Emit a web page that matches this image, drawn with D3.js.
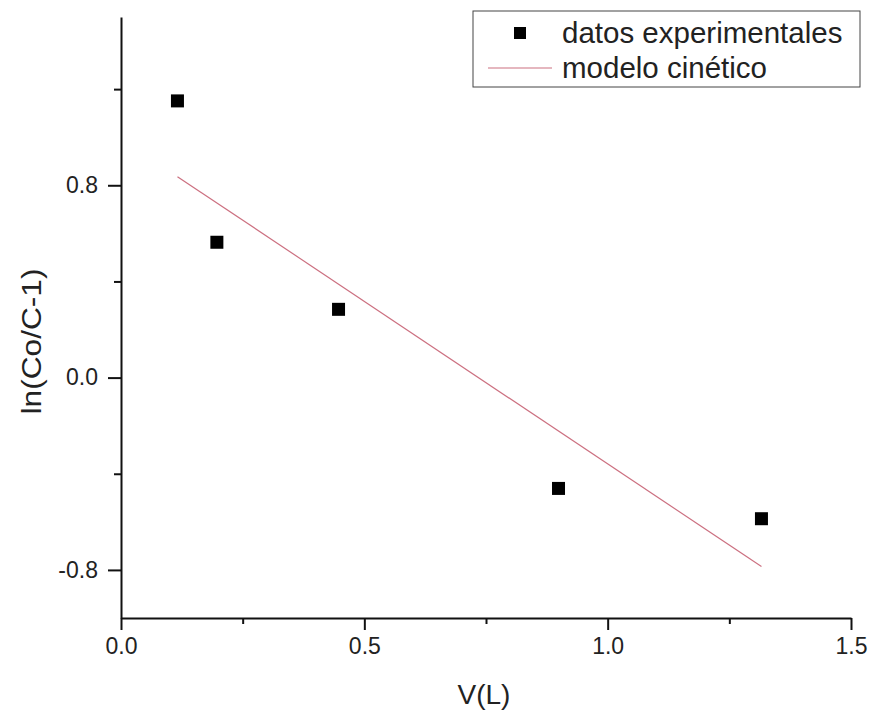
<!DOCTYPE html>
<html>
<head>
<meta charset="utf-8">
<script src="https://cdn.jsdelivr.net/npm/d3@7"></script>
<style>
  html, body { margin: 0; padding: 0; background: #fff; }
  svg { display: block; font-family: "Liberation Sans", Arial, sans-serif; }
</style>
</head>
<body>
<svg id="chart" width="872" height="713"></svg>
<script>
// Experimental points
const volume = [0.116, 0.197, 0.447, 0.899, 1.316];
const lnRatio = [1.151, 0.563, 0.284, -0.461, -0.587];

// Kinetic model (straight line between its end points)
const modelVolume = [0.116, 1.316];
const modelLnRatio = [0.836, -0.786];

// Axis ticks
const xMajor = [0, 0.5, 1.0, 1.5];
const xMinor = [0.25, 0.75, 1.25];
const yMajor = [-0.8, 0.0, 0.8];
const yMinor = [-0.4, 0.4, 1.2];

const legendLabels = ["datos experimentales", "modelo cinético"];
const axisTitles = { x: "V(L)", y: "ln(Co/C-1)" };

const svg = d3.select("#chart");
const x = d3.scaleLinear().domain([0, 1.5]).range([121, 851]);
const y = d3.scaleLinear().domain([-1, 1.5]).range([618, 17]);
const fmt = d => d.toFixed(1);

// Axes
svg.append("g").attr("transform", `translate(0,${y(-1)})`)
  .call(d3.axisBottom(x).tickValues(xMajor).tickFormat(fmt).tickSize(12).tickSizeOuter(0).tickPadding(8));
svg.append("g").attr("transform", `translate(0,${y(-1)})`)
  .call(d3.axisBottom(x).tickValues(xMinor).tickFormat("").tickSize(6).tickSizeOuter(0))
  .select(".domain").remove();

svg.append("g").attr("transform", `translate(${x(0)},0)`)
  .call(d3.axisLeft(y).tickValues(yMajor).tickFormat(fmt).tickSize(13).tickSizeOuter(0).tickPadding(10));
svg.append("g").attr("transform", `translate(${x(0)},0)`)
  .call(d3.axisLeft(y).tickValues(yMinor).tickFormat("").tickSize(7).tickSizeOuter(0))
  .select(".domain").remove();

svg.selectAll(".domain").attr("stroke", "#111").attr("stroke-width", 2);
svg.selectAll(".tick line").attr("stroke", "#111").attr("stroke-width", 2);
svg.selectAll(".tick text").attr("font-size", 23).attr("fill", "#222")
  .attr("font-family", "Liberation Sans, Arial, sans-serif");

// Axis titles
svg.append("text").attr("x", 484).attr("y", 704).attr("text-anchor", "middle")
  .attr("font-size", 28).attr("fill", "#222").text(axisTitles.x);
svg.append("text").attr("transform", "translate(41,341.5) rotate(-90)").attr("text-anchor", "middle")
  .attr("font-size", 28).attr("fill", "#222")
  .attr("textLength", 146).attr("lengthAdjust", "spacingAndGlyphs").text(axisTitles.y);

// Model line
const line = d3.line().x(d => x(d[0])).y(d => y(d[1]));
svg.append("path").datum(d3.zip(modelVolume, modelLnRatio))
  .attr("d", line).attr("fill", "none").attr("stroke", "#cc7080").attr("stroke-width", 1.2);

// Experimental squares
const sq = 13;
svg.selectAll("rect.pt").data(d3.zip(volume, lnRatio)).join("rect")
  .attr("class", "pt")
  .attr("x", d => x(d[0]) - sq / 2).attr("y", d => y(d[1]) - sq / 2)
  .attr("width", sq).attr("height", sq).attr("fill", "#000");

// Legend
const lg = svg.append("g");
lg.append("rect").attr("x", 473).attr("y", 11).attr("width", 387).attr("height", 76)
  .attr("fill", "#fff").attr("stroke", "#444").attr("stroke-width", 1);
lg.append("rect").attr("x", 520 - 6).attr("y", 33 - 6).attr("width", 12).attr("height", 12).attr("fill", "#000");
lg.append("line").attr("x1", 488).attr("x2", 552).attr("y1", 68).attr("y2", 68)
  .attr("stroke", "#cc7080").attr("stroke-width", 1.2);
lg.append("text").attr("x", 562).attr("y", 43).attr("font-size", 29.5).attr("fill", "#222").text(legendLabels[0]);
lg.append("text").attr("x", 562).attr("y", 78).attr("font-size", 29.5).attr("fill", "#222").text(legendLabels[1]);
</script>
</body>
</html>
